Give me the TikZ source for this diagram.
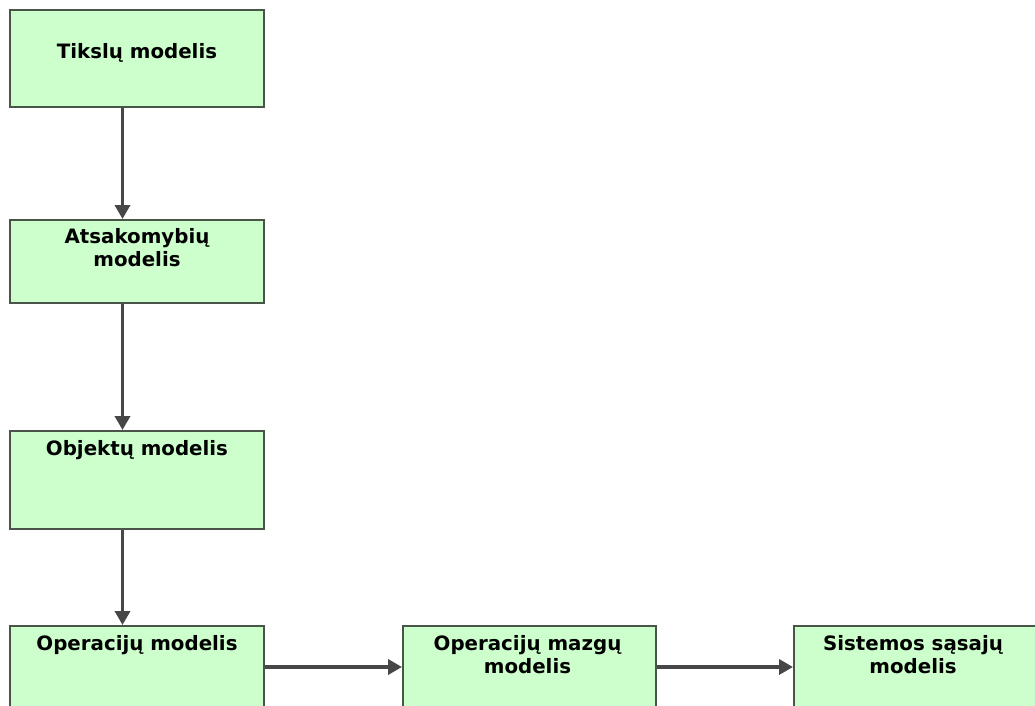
\documentclass[tikz,border=0pt]{standalone}
\usepackage{fontspec}
\setmainfont{DejaVu Sans}
\usetikzlibrary{arrows.meta}
\definecolor{boxfill}{HTML}{CCFFCC}
\definecolor{boxline}{HTML}{4A554A}
\definecolor{arrowgray}{HTML}{474747}
\tikzset{
  model/.style={draw=boxline, line width=2pt, fill=boxfill, rectangle,
    anchor=north west, minimum width=254pt, inner sep=0pt},
  caption/.style={anchor=north, align=center, font=\bfseries\fontsize{19.8pt}{23pt}\selectfont,
    text=black, inner sep=0pt},
  flow/.style={draw=arrowgray, line width=3.5pt,
    -{Triangle[length=14pt,width=15pt]}}
}
\begin{document}
\begin{tikzpicture}[x=1pt,y=-1pt]
  \useasboundingbox (0,0) rectangle (1035,706);
  \clip (0,0) rectangle (1035,706);
  \fill[white] (0,0) rectangle (1035,706);

  % main column of models
  \node[model, minimum height=97pt,
    label={[caption, yshift=-34pt]north:Tikslų modelis}] (goals) at (9,9) {};
  \node[model, minimum height=83pt,
    label={[caption, yshift=-9pt]north:Atsakomybių\\modelis}] (resp) at (9,219) {};
  \node[model, minimum height=98pt,
    label={[caption, yshift=-10pt]north:Objektų modelis}] (objects) at (9,430) {};
  \node[model, minimum height=97pt,
    label={[caption, yshift=-10pt]north:Operacijų modelis}] (ops) at (9,625) {};

  % bottom row
  \node[model, minimum width=253pt, minimum height=97pt,
    label={[caption, xshift=-2pt, yshift=-10pt]north:Operacijų mazgų\\modelis}] (nodes) at (402,625) {};
  \node[model, minimum height=97pt,
    label={[caption, xshift=-8pt, yshift=-10pt]north:Sistemos sąsajų\\modelis}] (iface) at (793,625) {};

  % vertical connectors
  \draw[flow] ([xshift=-14.5pt]goals.south) -- ([xshift=-14.5pt]resp.north);
  \draw[flow] ([xshift=-14.5pt]resp.south) -- ([xshift=-14.5pt]objects.north);
  \draw[flow] ([xshift=-14.5pt]objects.south) -- ([xshift=-14.5pt]ops.north);

  % horizontal connectors
  \draw[flow] ([yshift=-42pt]ops.north east) -- ([yshift=-42pt]nodes.north west);
  \draw[flow] ([yshift=-42pt]nodes.north east) -- ([yshift=-42pt]iface.north west);
\end{tikzpicture}
\end{document}
